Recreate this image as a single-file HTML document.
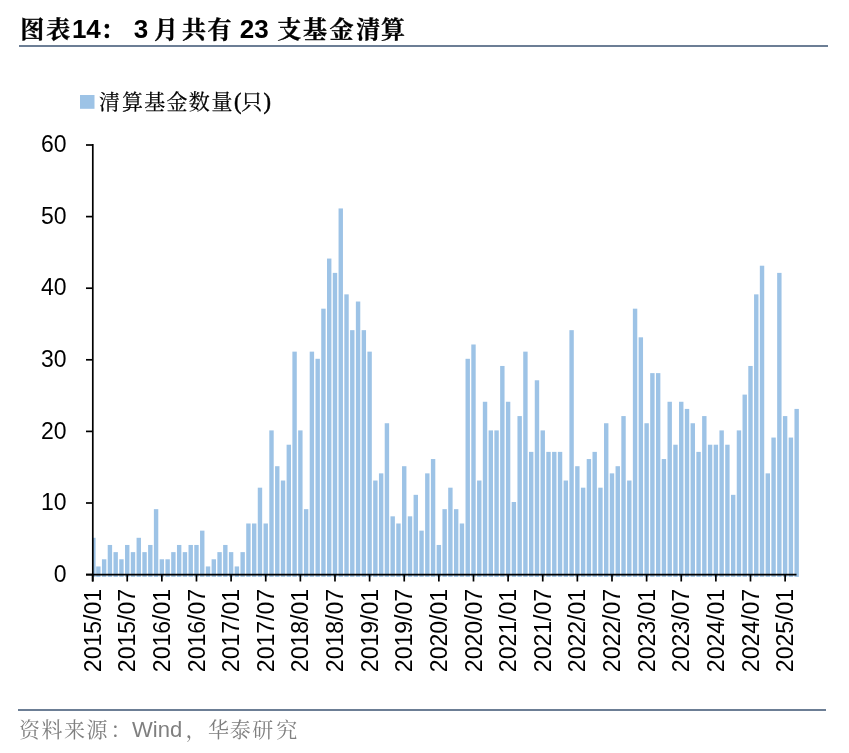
<!DOCTYPE html>
<html><head><meta charset="utf-8"><style>
html,body{margin:0;padding:0;background:#fff;}
body{width:849px;height:753px;overflow:hidden;}
svg{display:block;}
.tc{font-family:"Noto Serif CJK SC",serif;font-weight:bold;fill:#000;stroke:#000;stroke-width:0.35px;}
.td{font-family:"Liberation Sans",sans-serif;font-weight:bold;font-size:26px;fill:#000;}
.lc{font-family:"Noto Serif CJK SC",serif;font-weight:normal;fill:#000;stroke:#000;stroke-width:0.25px;}
.lp{font-family:"Liberation Serif",serif;font-size:22.5px;fill:#000;stroke:#000;stroke-width:0.5px;}
.sc{font-family:"Noto Serif CJK SC",serif;font-weight:normal;fill:#7f7f7f;}
.sl{font-family:"Liberation Sans",sans-serif;font-size:22px;fill:#7f7f7f;}
.ax{font-family:"Liberation Sans",sans-serif;font-size:23px;fill:#000;}
</style></head><body>
<svg width="849" height="753" viewBox="0 0 849 753" style="filter:blur(0.4px)">
<rect width="849" height="753" fill="#fff"/>
<text class="tc" x="20.30 46.25" y="38" style="font-size:24px" >图表</text>
<text class="td" x="71.9" y="38">14</text>
<text class="tc" x="100.60" y="38" style="font-size:24px" >：</text>
<text class="td" x="133.7" y="38">3</text>
<text class="tc" x="153.90 182.05 207.45" y="38" style="font-size:24px" >月共有</text>
<text class="td" x="239.8" y="38">23</text>
<text class="tc" x="277.35 303.05 329.40 356.20 380.90" y="38" style="font-size:24px" >支基金清算</text>
<rect x="19" y="45" width="809" height="2" fill="#6c7e95"/>
<rect x="80" y="95" width="14.5" height="13.8" fill="#9dc3e6"/>
<text class="lc" x="99.10 122.00 144.20 166.50 188.80 211.60" y="109" style="font-size:21px" >清算基金数量</text>
<text class="lp" x="234" y="109">(</text>
<text class="lc" x="241.30" y="109" style="font-size:21px" >只</text>
<text class="lp" x="263.5" y="109">)</text>
<svg x="93" y="0" width="760" height="753" overflow="hidden">
<g transform="translate(-93,0)" fill="#9dc3e6">
<rect x="92" y="537.80" width="3.5999999999999943" height="39.10"/>
<rect x="96.17" y="566.44" width="4.4" height="10.46"/>
<rect x="101.94" y="559.28" width="4.4" height="17.62"/>
<rect x="107.71" y="544.96" width="4.4" height="31.94"/>
<rect x="113.48" y="552.12" width="4.4" height="24.78"/>
<rect x="119.25" y="559.28" width="4.4" height="17.62"/>
<rect x="125.03" y="544.96" width="4.4" height="31.94"/>
<rect x="130.80" y="552.12" width="4.4" height="24.78"/>
<rect x="136.57" y="537.80" width="4.4" height="39.10"/>
<rect x="142.34" y="552.12" width="4.4" height="24.78"/>
<rect x="148.11" y="544.96" width="4.4" height="31.94"/>
<rect x="153.88" y="509.16" width="4.4" height="67.74"/>
<rect x="159.65" y="559.28" width="4.4" height="17.62"/>
<rect x="165.42" y="559.28" width="4.4" height="17.62"/>
<rect x="171.19" y="552.12" width="4.4" height="24.78"/>
<rect x="176.97" y="544.96" width="4.4" height="31.94"/>
<rect x="182.74" y="552.12" width="4.4" height="24.78"/>
<rect x="188.51" y="544.96" width="4.4" height="31.94"/>
<rect x="194.28" y="544.96" width="4.4" height="31.94"/>
<rect x="200.05" y="530.64" width="4.4" height="46.26"/>
<rect x="205.82" y="566.44" width="4.4" height="10.46"/>
<rect x="211.59" y="559.28" width="4.4" height="17.62"/>
<rect x="217.36" y="552.12" width="4.4" height="24.78"/>
<rect x="223.13" y="544.96" width="4.4" height="31.94"/>
<rect x="228.90" y="552.12" width="4.4" height="24.78"/>
<rect x="234.68" y="566.44" width="4.4" height="10.46"/>
<rect x="240.45" y="552.12" width="4.4" height="24.78"/>
<rect x="246.22" y="523.48" width="4.4" height="53.42"/>
<rect x="251.99" y="523.48" width="4.4" height="53.42"/>
<rect x="257.76" y="487.68" width="4.4" height="89.22"/>
<rect x="263.53" y="523.48" width="4.4" height="53.42"/>
<rect x="269.30" y="430.40" width="4.4" height="146.50"/>
<rect x="275.07" y="466.20" width="4.4" height="110.70"/>
<rect x="280.84" y="480.52" width="4.4" height="96.38"/>
<rect x="286.61" y="444.72" width="4.4" height="132.18"/>
<rect x="292.38" y="351.64" width="4.4" height="225.26"/>
<rect x="298.16" y="430.40" width="4.4" height="146.50"/>
<rect x="303.93" y="509.16" width="4.4" height="67.74"/>
<rect x="309.70" y="351.64" width="4.4" height="225.26"/>
<rect x="315.47" y="358.80" width="4.4" height="218.10"/>
<rect x="321.24" y="308.68" width="4.4" height="268.22"/>
<rect x="327.01" y="258.56" width="4.4" height="318.34"/>
<rect x="332.78" y="272.88" width="4.4" height="304.02"/>
<rect x="338.55" y="208.44" width="4.4" height="368.46"/>
<rect x="344.32" y="294.36" width="4.4" height="282.54"/>
<rect x="350.09" y="330.16" width="4.4" height="246.74"/>
<rect x="355.87" y="301.52" width="4.4" height="275.38"/>
<rect x="361.64" y="330.16" width="4.4" height="246.74"/>
<rect x="367.41" y="351.64" width="4.4" height="225.26"/>
<rect x="373.18" y="480.52" width="4.4" height="96.38"/>
<rect x="378.95" y="473.36" width="4.4" height="103.54"/>
<rect x="384.72" y="423.24" width="4.4" height="153.66"/>
<rect x="390.49" y="516.32" width="4.4" height="60.58"/>
<rect x="396.26" y="523.48" width="4.4" height="53.42"/>
<rect x="402.03" y="466.20" width="4.4" height="110.70"/>
<rect x="407.81" y="516.32" width="4.4" height="60.58"/>
<rect x="413.58" y="494.84" width="4.4" height="82.06"/>
<rect x="419.35" y="530.64" width="4.4" height="46.26"/>
<rect x="425.12" y="473.36" width="4.4" height="103.54"/>
<rect x="430.89" y="459.04" width="4.4" height="117.86"/>
<rect x="436.66" y="544.96" width="4.4" height="31.94"/>
<rect x="442.43" y="509.16" width="4.4" height="67.74"/>
<rect x="448.20" y="487.68" width="4.4" height="89.22"/>
<rect x="453.97" y="509.16" width="4.4" height="67.74"/>
<rect x="459.74" y="523.48" width="4.4" height="53.42"/>
<rect x="465.52" y="358.80" width="4.4" height="218.10"/>
<rect x="471.29" y="344.48" width="4.4" height="232.42"/>
<rect x="477.06" y="480.52" width="4.4" height="96.38"/>
<rect x="482.83" y="401.76" width="4.4" height="175.14"/>
<rect x="488.60" y="430.40" width="4.4" height="146.50"/>
<rect x="494.37" y="430.40" width="4.4" height="146.50"/>
<rect x="500.14" y="365.96" width="4.4" height="210.94"/>
<rect x="505.91" y="401.76" width="4.4" height="175.14"/>
<rect x="511.68" y="502.00" width="4.4" height="74.90"/>
<rect x="517.45" y="416.08" width="4.4" height="160.82"/>
<rect x="523.22" y="351.64" width="4.4" height="225.26"/>
<rect x="529.00" y="451.88" width="4.4" height="125.02"/>
<rect x="534.77" y="380.28" width="4.4" height="196.62"/>
<rect x="540.54" y="430.40" width="4.4" height="146.50"/>
<rect x="546.31" y="451.88" width="4.4" height="125.02"/>
<rect x="552.08" y="451.88" width="4.4" height="125.02"/>
<rect x="557.85" y="451.88" width="4.4" height="125.02"/>
<rect x="563.62" y="480.52" width="4.4" height="96.38"/>
<rect x="569.39" y="330.16" width="4.4" height="246.74"/>
<rect x="575.16" y="466.20" width="4.4" height="110.70"/>
<rect x="580.93" y="487.68" width="4.4" height="89.22"/>
<rect x="586.71" y="459.04" width="4.4" height="117.86"/>
<rect x="592.48" y="451.88" width="4.4" height="125.02"/>
<rect x="598.25" y="487.68" width="4.4" height="89.22"/>
<rect x="604.02" y="423.24" width="4.4" height="153.66"/>
<rect x="609.79" y="473.36" width="4.4" height="103.54"/>
<rect x="615.56" y="466.20" width="4.4" height="110.70"/>
<rect x="621.33" y="416.08" width="4.4" height="160.82"/>
<rect x="627.10" y="480.52" width="4.4" height="96.38"/>
<rect x="632.87" y="308.68" width="4.4" height="268.22"/>
<rect x="638.64" y="337.32" width="4.4" height="239.58"/>
<rect x="644.42" y="423.24" width="4.4" height="153.66"/>
<rect x="650.19" y="373.12" width="4.4" height="203.78"/>
<rect x="655.96" y="373.12" width="4.4" height="203.78"/>
<rect x="661.73" y="459.04" width="4.4" height="117.86"/>
<rect x="667.50" y="401.76" width="4.4" height="175.14"/>
<rect x="673.27" y="444.72" width="4.4" height="132.18"/>
<rect x="679.04" y="401.76" width="4.4" height="175.14"/>
<rect x="684.81" y="408.92" width="4.4" height="167.98"/>
<rect x="690.58" y="423.24" width="4.4" height="153.66"/>
<rect x="696.36" y="451.88" width="4.4" height="125.02"/>
<rect x="702.13" y="416.08" width="4.4" height="160.82"/>
<rect x="707.90" y="444.72" width="4.4" height="132.18"/>
<rect x="713.67" y="444.72" width="4.4" height="132.18"/>
<rect x="719.44" y="430.40" width="4.4" height="146.50"/>
<rect x="725.21" y="444.72" width="4.4" height="132.18"/>
<rect x="730.98" y="494.84" width="4.4" height="82.06"/>
<rect x="736.75" y="430.40" width="4.4" height="146.50"/>
<rect x="742.52" y="394.60" width="4.4" height="182.30"/>
<rect x="748.29" y="365.96" width="4.4" height="210.94"/>
<rect x="754.06" y="294.36" width="4.4" height="282.54"/>
<rect x="759.84" y="265.72" width="4.4" height="311.18"/>
<rect x="765.61" y="473.36" width="4.4" height="103.54"/>
<rect x="771.38" y="437.56" width="4.4" height="139.34"/>
<rect x="777.15" y="272.88" width="4.4" height="304.02"/>
<rect x="782.92" y="416.08" width="4.4" height="160.82"/>
<rect x="788.69" y="437.56" width="4.4" height="139.34"/>
<rect x="794.46" y="408.92" width="4.4" height="167.98"/>
</g></svg>
<g stroke="#000" stroke-width="1.7" fill="none">
<line x1="92.8" y1="144.1" x2="92.8" y2="581.5" stroke-width="1.7"/>
<line x1="86" y1="574.6" x2="796.5" y2="574.6"/>
<line x1="86" y1="574.60" x2="93" y2="574.60"/>
<line x1="86" y1="503.00" x2="93" y2="503.00"/>
<line x1="86" y1="431.40" x2="93" y2="431.40"/>
<line x1="86" y1="359.80" x2="93" y2="359.80"/>
<line x1="86" y1="288.20" x2="93" y2="288.20"/>
<line x1="86" y1="216.60" x2="93" y2="216.60"/>
<line x1="86" y1="145.00" x2="93" y2="145.00"/>
<line x1="92.60" y1="574.6" x2="92.60" y2="581.5"/>
<line x1="127.23" y1="574.6" x2="127.23" y2="581.5"/>
<line x1="161.85" y1="574.6" x2="161.85" y2="581.5"/>
<line x1="196.48" y1="574.6" x2="196.48" y2="581.5"/>
<line x1="231.10" y1="574.6" x2="231.10" y2="581.5"/>
<line x1="265.73" y1="574.6" x2="265.73" y2="581.5"/>
<line x1="300.36" y1="574.6" x2="300.36" y2="581.5"/>
<line x1="334.98" y1="574.6" x2="334.98" y2="581.5"/>
<line x1="369.61" y1="574.6" x2="369.61" y2="581.5"/>
<line x1="404.23" y1="574.6" x2="404.23" y2="581.5"/>
<line x1="438.86" y1="574.6" x2="438.86" y2="581.5"/>
<line x1="473.49" y1="574.6" x2="473.49" y2="581.5"/>
<line x1="508.11" y1="574.6" x2="508.11" y2="581.5"/>
<line x1="542.74" y1="574.6" x2="542.74" y2="581.5"/>
<line x1="577.36" y1="574.6" x2="577.36" y2="581.5"/>
<line x1="611.99" y1="574.6" x2="611.99" y2="581.5"/>
<line x1="646.62" y1="574.6" x2="646.62" y2="581.5"/>
<line x1="681.24" y1="574.6" x2="681.24" y2="581.5"/>
<line x1="715.87" y1="574.6" x2="715.87" y2="581.5"/>
<line x1="750.49" y1="574.6" x2="750.49" y2="581.5"/>
<line x1="785.12" y1="574.6" x2="785.12" y2="581.5"/>
</g>
<g class="ax" text-anchor="end">
<text x="66.5" y="581.80">0</text>
<text x="66.5" y="510.20">10</text>
<text x="66.5" y="438.60">20</text>
<text x="66.5" y="367.00">30</text>
<text x="66.5" y="295.40">40</text>
<text x="66.5" y="223.80">50</text>
<text x="66.5" y="152.20">60</text>
</g>
<g class="ax" text-anchor="end">
<text transform="translate(100.70,589) rotate(-90)">2015/01</text>
<text transform="translate(135.33,589) rotate(-90)">2015/07</text>
<text transform="translate(169.95,589) rotate(-90)">2016/01</text>
<text transform="translate(204.58,589) rotate(-90)">2016/07</text>
<text transform="translate(239.20,589) rotate(-90)">2017/01</text>
<text transform="translate(273.83,589) rotate(-90)">2017/07</text>
<text transform="translate(308.46,589) rotate(-90)">2018/01</text>
<text transform="translate(343.08,589) rotate(-90)">2018/07</text>
<text transform="translate(377.71,589) rotate(-90)">2019/01</text>
<text transform="translate(412.33,589) rotate(-90)">2019/07</text>
<text transform="translate(446.96,589) rotate(-90)">2020/01</text>
<text transform="translate(481.59,589) rotate(-90)">2020/07</text>
<text transform="translate(516.21,589) rotate(-90)">2021/01</text>
<text transform="translate(550.84,589) rotate(-90)">2021/07</text>
<text transform="translate(585.46,589) rotate(-90)">2022/01</text>
<text transform="translate(620.09,589) rotate(-90)">2022/07</text>
<text transform="translate(654.72,589) rotate(-90)">2023/01</text>
<text transform="translate(689.34,589) rotate(-90)">2023/07</text>
<text transform="translate(723.97,589) rotate(-90)">2024/01</text>
<text transform="translate(758.59,589) rotate(-90)">2024/07</text>
<text transform="translate(793.22,589) rotate(-90)">2025/01</text>
</g>
<rect x="18" y="709" width="808" height="2" fill="#6c7e95"/>
<text class="sc" x="19.00 41.50 64.00 86.50 110.40" y="737" style="font-size:21px" >资料来源：</text>
<text class="sl" x="132" y="737">Wind</text>
<text class="sc" x="185.60" y="737" style="font-size:21px" >，</text>
<text class="sc" x="208.00 229.80 252.20 276.20" y="737" style="font-size:21px" >华泰研究</text>
</svg>
</body></html>
